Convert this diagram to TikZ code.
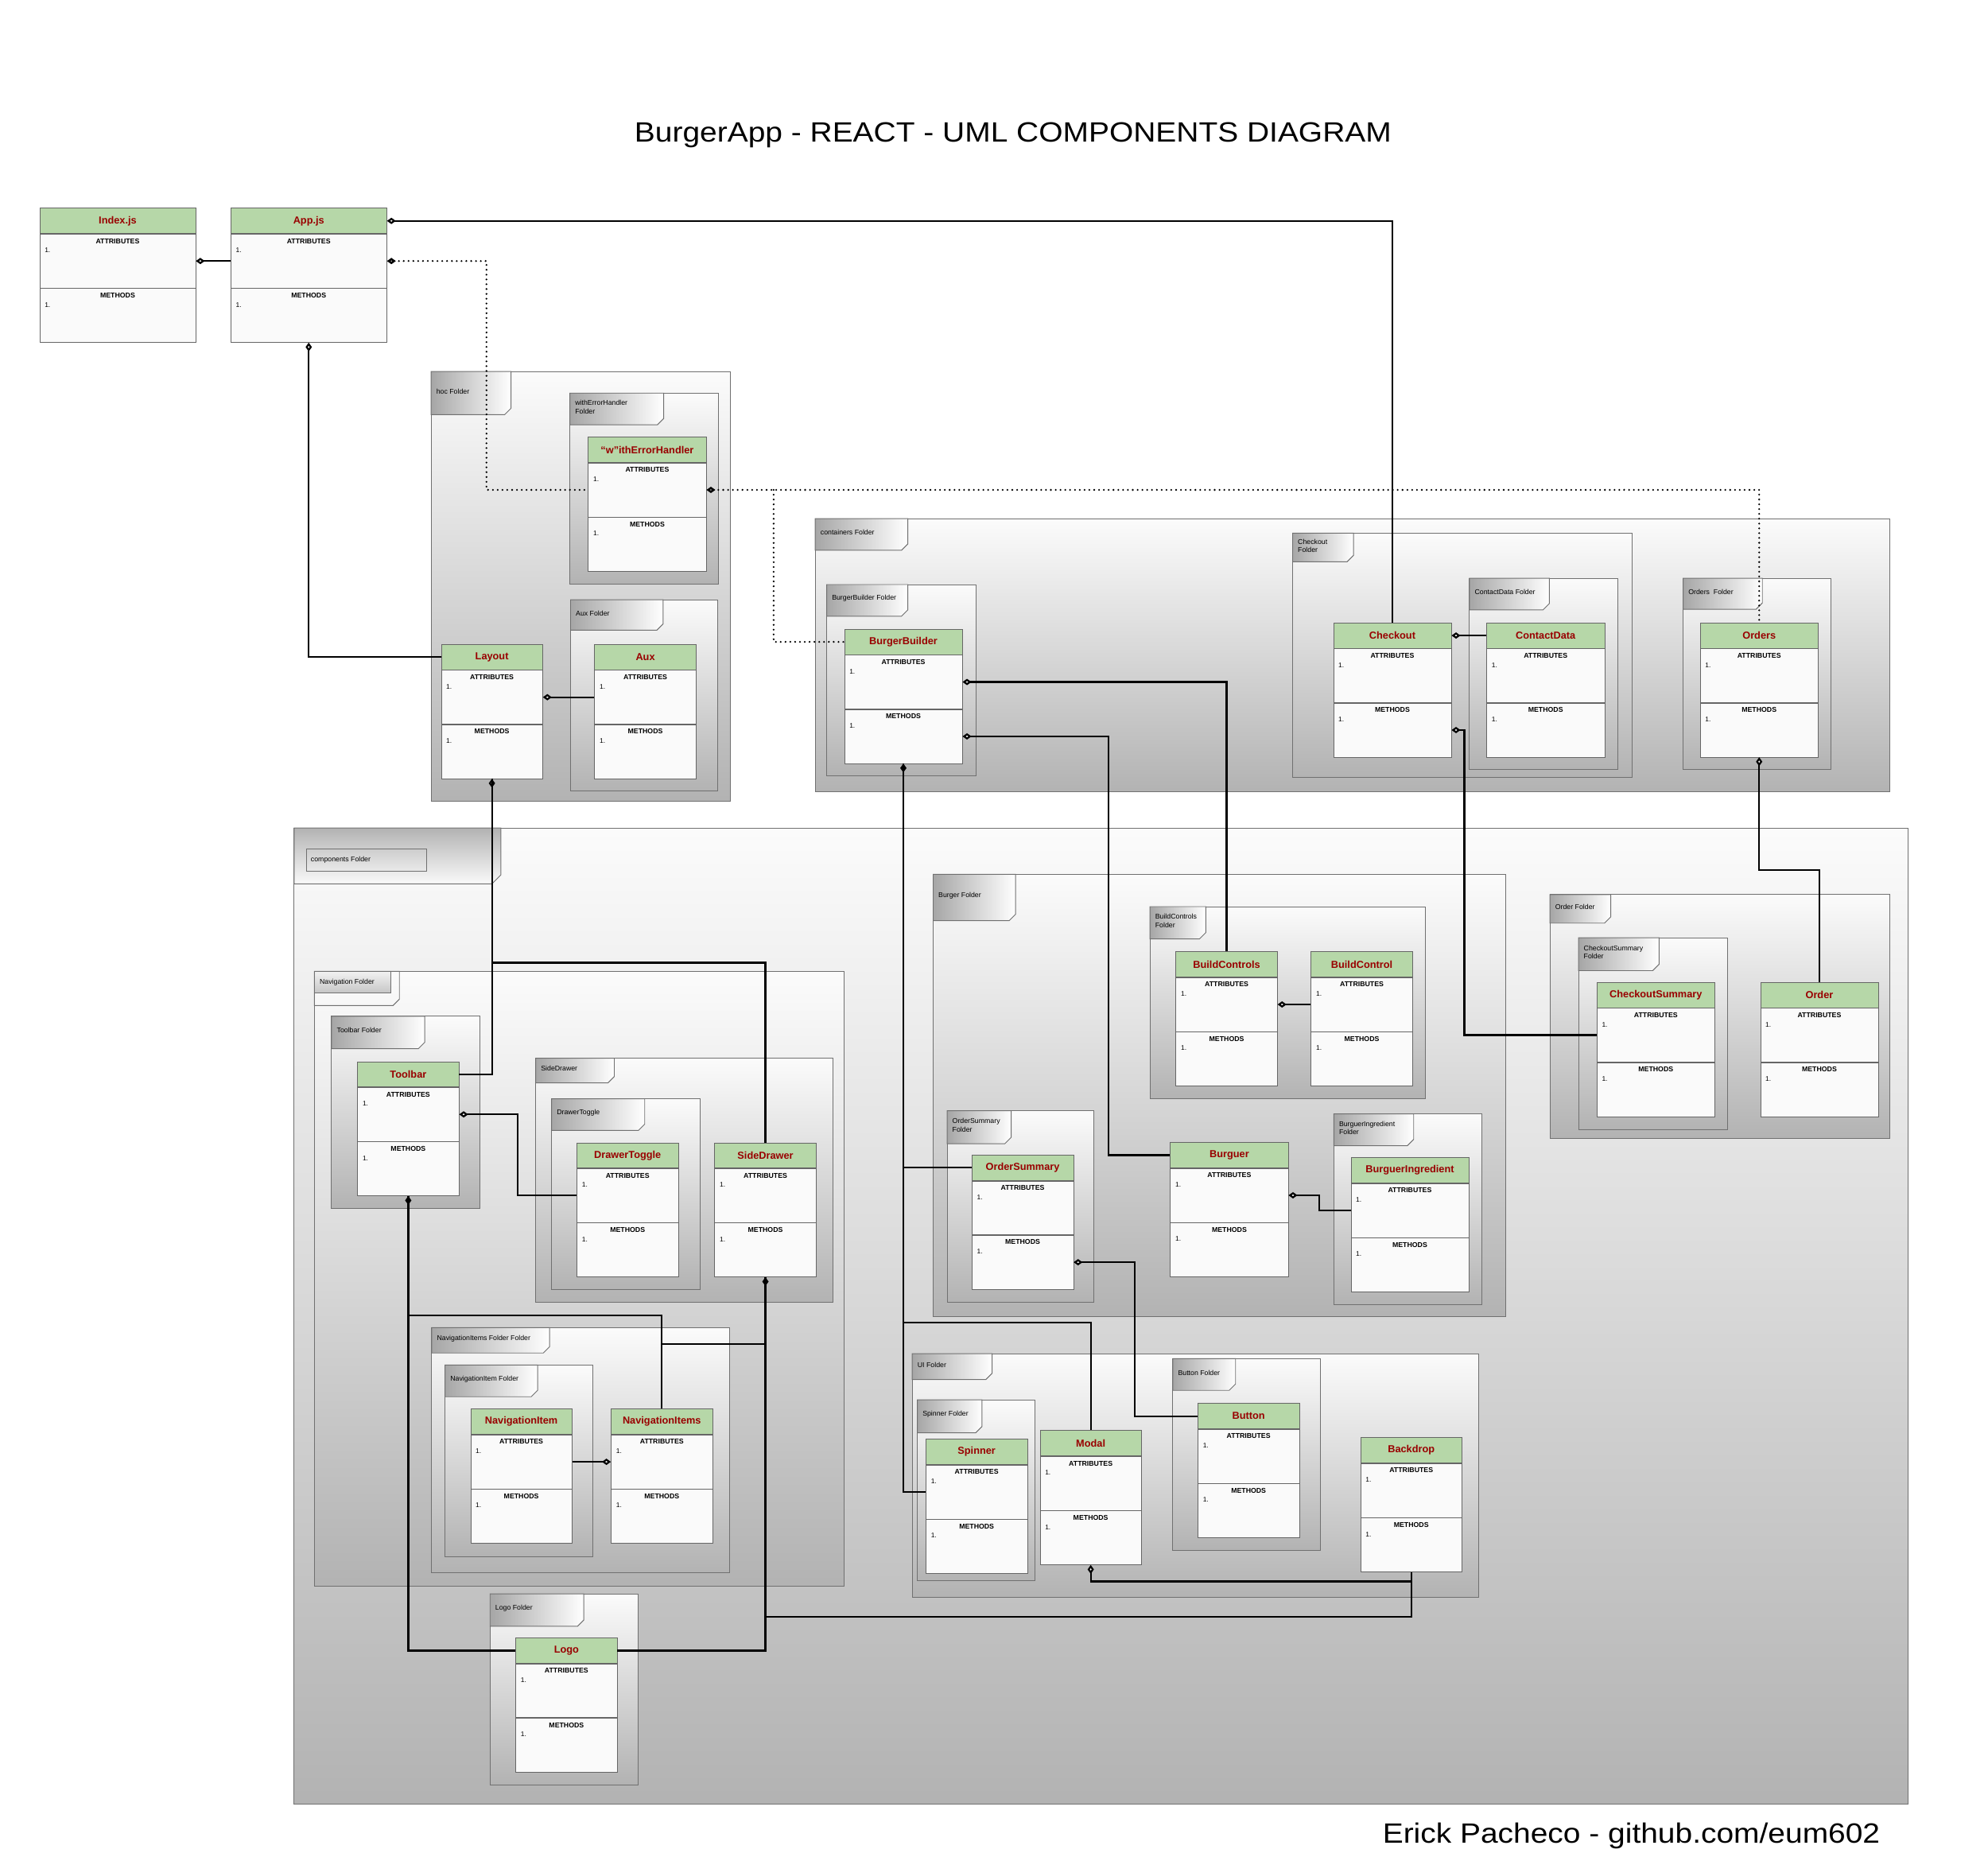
\documentclass[tikz,border=0pt]{standalone}
\usepackage{fontspec}
\setmainfont{Liberation Sans}
\newfontfamily\headfont[FakeStretch=1.11]{Liberation Sans}
\usetikzlibrary{positioning,arrows.meta}
\definecolor{hdgreen}{HTML}{B6D7A8}
\definecolor{namered}{HTML}{990000}
\definecolor{boxline}{HTML}{666666}
\definecolor{boxfill}{HTML}{FAFAFA}
\definecolor{frame}{HTML}{707070}

\begin{document}
\begin{tikzpicture}[x=1pt,y=-1pt,inner sep=0pt,
 cls/.style={draw=boxline,fill=hdgreen,minimum width=#1,minimum height=20,anchor=north,text=namered,font=\fontsize{8}{9}\selectfont\bfseries},
 sect/.style={draw=boxline,fill=boxfill,minimum width=#1,minimum height=42.5,label={[anchor=north west,xshift=4pt,yshift=-11pt,font=\fontsize{5.3}{6}\selectfont]north west:1.}},
 attr/.style={sect=#1,label={[anchor=north,yshift=-3.5pt,font=\fontsize{5.5}{6}\selectfont\bfseries]north:ATTRIBUTES}},
 meth/.style={sect=#1,label={[anchor=north,yshift=-3.5pt,font=\fontsize{5.5}{6}\selectfont\bfseries]north:METHODS}},
 fold/.style={draw=frame,line width=0.6pt,top color=gray!3,bottom color=gray!60},
 tab/.style={draw=frame,line width=0.6pt,left color=gray!70,right color=white},
 ctab/.style={draw=frame,line width=0.6pt,top color=gray!60,bottom color=gray!4},
 flab/.style={anchor=west,align=left,font=\fontsize{5.5}{6.5}\selectfont},
 link/.style={line width=1.4pt},
 agg/.style={link,{Diamond[fill=white,length=7pt,width=5pt]}-},
 dots/.style={line width=1.6pt,dash pattern=on 0pt off 3.8pt,line cap=round},
 ttl/.style={anchor=base,font=\headfont\fontsize{22}{26}\selectfont}]
\fill[white] (0,0) rectangle (1568,1464);
\node[ttl] (title) at (799,111.8) {BurgerApp - REACT - UML COMPONENTS DIAGRAM};
\node[ttl] (credit) at (1286.7,1453.4) {Erick Pacheco - github.com/eum602};

\draw[fold] (340,293) rectangle (576,632);
\draw[tab] (340,293) -| (403,322) -- (398,327) -| (340,293) -- cycle;
\node[flab] (hocf) at (344,308.5) {hoc Folder};
\draw[fold] (449.5,310) rectangle (566.5,460.5);
\draw[tab] (449.5,310) -| (523.5,330) -- (518.5,335) -| (449.5,310) -- cycle;
\node[flab] (wehf) at (453.5,321) {withErrorHandler\\Folder};
\draw[fold] (450,473) rectangle (566,624);
\draw[tab] (450,473) -| (523,492) -- (518,497) -| (450,473) -- cycle;
\node[flab] (auxf) at (454,483.5) {Aux Folder};

\draw[fold] (643,409) rectangle (1490.5,624.5);
\draw[tab] (643,409) -| (716,429) -- (711,434) -| (643,409) -- cycle;
\node[flab] (contf) at (647,420) {containers Folder};
\draw[fold] (652,461) rectangle (770,611.5);
\draw[tab] (652,461) -| (716,481) -- (711,486) -| (652,461) -- cycle;
\node[flab] (bbf) at (656,472) {BurgerBuilder Folder};
\draw[fold] (1019.5,420.5) rectangle (1287.5,613);
\draw[tab] (1019.5,420.5) -| (1067.5,438) -- (1062.5,443) -| (1019.5,420.5) -- cycle;
\node[flab] (checkoutf) at (1023.5,430.5) {Checkout\\Folder};
\draw[fold] (1159,456) rectangle (1276,606.5);
\draw[tab] (1159,456) -| (1222,476) -- (1217,481) -| (1159,456) -- cycle;
\node[flab] (contactf) at (1163,467) {ContactData Folder};
\draw[fold] (1327.5,456) rectangle (1444,606.5);
\draw[tab] (1327.5,456) -| (1390,475.5) -- (1385,480.5) -| (1327.5,456) -- cycle;
\node[flab] (ordersf) at (1331.5,466.7) {Orders\ \ Folder};

\draw[fold] (232,653) rectangle (1505,1423);
\draw[ctab] (232,653) -| (395,690) -- (388,697) -| (232,653) -- cycle;
\draw[draw=frame,line width=0.6pt] (241.5,669.5) rectangle (336.5,687);
\node[flab] (compf) at (245,678) {components Folder};
\draw[fold] (248,766) rectangle (666,1251);
\draw[draw=frame,line width=0.6pt] (248,766) -| (315,788) -- (310,793) -| (248,766) -- cycle;
\draw[draw=frame,line width=0.6pt,top color=gray!10,bottom color=gray!45] (248,766) rectangle (308,783);
\node[flab] (navf) at (252,774.5) {Navigation Folder};
\draw[fold] (261.5,801.5) rectangle (378.5,953);
\draw[tab] (261.5,801.5) -| (335,822) -- (330,827) -| (261.5,801.5) -- cycle;
\node[flab] (toolbarf) at (265.5,812.7) {Toolbar Folder};
\draw[fold] (422.5,834.5) rectangle (657,1027);
\draw[tab] (422.5,834.5) -| (484.5,849) -- (479.5,854) -| (422.5,834.5) -- cycle;
\node[flab] (sidedrawerf) at (426.5,842.7) {SideDrawer};
\draw[fold] (435,866.5) rectangle (552,1017);
\draw[tab] (435,866.5) -| (508.5,886.5) -- (503.5,891.5) -| (435,866.5) -- cycle;
\node[flab] (drawertogglef) at (439,877.5) {DrawerToggle};
\draw[fold] (340.5,1047) rectangle (575.5,1240.5);
\draw[tab] (340.5,1047) -| (433.5,1062) -- (428.5,1067) -| (340.5,1047) -- cycle;
\node[flab] (navitemsf) at (344.5,1055.5) {NavigationItems Folder Folder};
\draw[fold] (351,1076.5) rectangle (467.5,1227.5);
\draw[tab] (351,1076.5) -| (424,1096.5) -- (419,1101.5) -| (351,1076.5) -- cycle;
\node[flab] (navitemf) at (355,1087.5) {NavigationItem Folder};
\draw[fold] (386.5,1257) rectangle (503.5,1407.5);
\draw[tab] (386.5,1257) -| (460.5,1277.5) -- (455.5,1282.5) -| (386.5,1257) -- cycle;
\node[flab] (logof) at (390.5,1268.2) {Logo Folder};
\draw[fold] (736,689.5) rectangle (1187.5,1038.5);
\draw[tab] (736,689.5) -| (801,721) -- (796,726) -| (736,689.5) -- cycle;
\node[flab] (burgerf) at (740,706.2) {Burger Folder};
\draw[fold] (907,715) rectangle (1124.5,866.5);
\draw[tab] (907,715) -| (951,735.5) -- (946,740.5) -| (907,715) -- cycle;
\node[flab] (buildcontrolsf) at (911,726.2) {BuildControls\\Folder};
\draw[fold] (747,876) rectangle (863,1027);
\draw[tab] (747,876) -| (797.5,897) -- (792.5,902) -| (747,876) -- cycle;
\node[flab] (ordersummaryf) at (751,887.5) {OrderSummary\\Folder};
\draw[fold] (1052,878.5) rectangle (1168.5,1029);
\draw[tab] (1052,878.5) -| (1115,898.5) -- (1110,903.5) -| (1052,878.5) -- cycle;
\node[flab] (burguerf) at (1056,889.5) {BurguerIngredient\\Folder};
\draw[fold] (1222.5,705.5) rectangle (1490.5,898);
\draw[tab] (1222.5,705.5) -| (1270.5,723) -- (1265.5,728) -| (1222.5,705.5) -- cycle;
\node[flab] (orderf) at (1226.5,715.2) {Order Folder};
\draw[fold] (1245,739.5) rectangle (1362.5,891);
\draw[tab] (1245,739.5) -| (1308.5,760.5) -- (1303.5,765.5) -| (1245,739.5) -- cycle;
\node[flab] (checksumf) at (1249,751) {CheckoutSummary\\Folder};
\draw[fold] (719.5,1067.5) rectangle (1166,1260);
\draw[tab] (719.5,1067.5) -| (782.5,1083) -- (777.5,1088) -| (719.5,1067.5) -- cycle;
\node[flab] (uif) at (723.5,1076.2) {UI Folder};
\draw[fold] (723.5,1104) rectangle (816.5,1246.5);
\draw[tab] (723.5,1104) -| (774.5,1125) -- (769.5,1130) -| (723.5,1104) -- cycle;
\node[flab] (spinnerf) at (727.5,1115.5) {Spinner Folder};
\draw[fold] (925,1071.5) rectangle (1041.5,1222.5);
\draw[tab] (925,1071.5) -| (974.5,1091.5) -- (969.5,1096.5) -| (925,1071.5) -- cycle;
\node[flab] (buttonf) at (929,1082.5) {Button Folder};

\node[cls=123] (index) at (92.8,164) {Index.js};
\node[attr=123,below=0pt of index] (index-a) {};
\node[meth=123,below=0pt of index-a] (index-m) {};
\node[cls=123] (app) at (243.5,164) {App.js};
\node[attr=123,below=0pt of app] (app-a) {};
\node[meth=123,below=0pt of app-a] (app-m) {};
\node[cls=93] (weh) at (510.5,344.5) {“w”ithErrorHandler};
\node[attr=93,below=0pt of weh] (weh-a) {};
\node[meth=93,below=0pt of weh-a] (weh-m) {};
\node[cls=80] (layout) at (388,508) {Layout};
\node[attr=80,below=0pt of layout] (layout-a) {};
\node[meth=80,below=0pt of layout-a] (layout-m) {};
\node[cls=80] (aux) at (509,508) {Aux};
\node[attr=80,below=0pt of aux] (aux-a) {};
\node[meth=80,below=0pt of aux-a] (aux-m) {};
\node[cls=93] (bb) at (712.5,496) {BurgerBuilder};
\node[attr=93,below=0pt of bb] (bb-a) {};
\node[meth=93,below=0pt of bb-a] (bb-m) {};
\node[cls=93] (checkout) at (1098.2,491) {Checkout};
\node[attr=93,below=0pt of checkout] (checkout-a) {};
\node[meth=93,below=0pt of checkout-a] (checkout-m) {};
\node[cls=93] (contact) at (1219.1,491) {ContactData};
\node[attr=93,below=0pt of contact] (contact-a) {};
\node[meth=93,below=0pt of contact-a] (contact-m) {};
\node[cls=93] (orders) at (1387.5,491) {Orders};
\node[attr=93,below=0pt of orders] (orders-a) {};
\node[meth=93,below=0pt of orders-a] (orders-m) {};
\node[cls=80] (toolbar) at (322,837) {Toolbar};
\node[attr=80,below=0pt of toolbar] (toolbar-a) {};
\node[meth=80,below=0pt of toolbar-a] (toolbar-m) {};
\node[cls=80] (drawertoggle) at (495,901) {DrawerToggle};
\node[attr=80,below=0pt of drawertoggle] (drawertoggle-a) {};
\node[meth=80,below=0pt of drawertoggle-a] (drawertoggle-m) {};
\node[cls=80] (sidedrawer) at (603.7,901) {SideDrawer};
\node[attr=80,below=0pt of sidedrawer] (sidedrawer-a) {};
\node[meth=80,below=0pt of sidedrawer-a] (sidedrawer-m) {};
\node[cls=80] (navitem) at (411.2,1111) {NavigationItem};
\node[attr=80,below=0pt of navitem] (navitem-a) {};
\node[meth=80,below=0pt of navitem-a] (navitem-m) {};
\node[cls=80] (navitems) at (522,1111) {NavigationItems};
\node[attr=80,below=0pt of navitems] (navitems-a) {};
\node[meth=80,below=0pt of navitems-a] (navitems-m) {};
\node[cls=80] (logo) at (446.8,1291.5) {Logo};
\node[attr=80,below=0pt of logo] (logo-a) {};
\node[meth=80,below=0pt of logo-a] (logo-m) {};
\node[cls=80] (buildcontrols) at (967.5,750.3) {BuildControls};
\node[attr=80,below=0pt of buildcontrols] (buildcontrols-a) {};
\node[meth=80,below=0pt of buildcontrols-a] (buildcontrols-m) {};
\node[cls=80] (buildcontrol) at (1074.1,750.3) {BuildControl};
\node[attr=80,below=0pt of buildcontrol] (buildcontrol-a) {};
\node[meth=80,below=0pt of buildcontrol-a] (buildcontrol-m) {};
\node[cls=80] (ordersummary) at (806.6,910.7) {OrderSummary};
\node[attr=80,below=0pt of ordersummary] (ordersummary-a) {};
\node[meth=80,below=0pt of ordersummary-a] (ordersummary-m) {};
\node[cls=93] (burguer) at (969.6,900.8) {Burguer};
\node[attr=93,below=0pt of burguer] (burguer-a) {};
\node[meth=93,below=0pt of burguer-a] (burguer-m) {};
\node[cls=93] (burguering) at (1112,912.8) {BurguerIngredient};
\node[attr=93,below=0pt of burguering] (burguering-a) {};
\node[meth=93,below=0pt of burguering-a] (burguering-m) {};
\node[cls=93] (checksum) at (1306,774.5) {CheckoutSummary};
\node[attr=93,below=0pt of checksum] (checksum-a) {};
\node[meth=93,below=0pt of checksum-a] (checksum-m) {};
\node[cls=93] (order) at (1435,774.5) {Order};
\node[attr=93,below=0pt of order] (order-a) {};
\node[meth=93,below=0pt of order-a] (order-m) {};
\node[cls=80] (spinner) at (770.3,1134.8) {Spinner};
\node[attr=80,below=0pt of spinner] (spinner-a) {};
\node[meth=80,below=0pt of spinner-a] (spinner-m) {};
\node[cls=80] (modal) at (860.3,1128) {Modal};
\node[attr=80,below=0pt of modal] (modal-a) {};
\node[meth=80,below=0pt of modal-a] (modal-m) {};
\node[cls=80] (button) at (984.8,1106.6) {Button};
\node[attr=80,below=0pt of button] (button-a) {};
\node[meth=80,below=0pt of button-a] (button-m) {};
\node[cls=80] (backdrop) at (1113.1,1133.6) {Backdrop};
\node[attr=80,below=0pt of backdrop] (backdrop-a) {};
\node[meth=80,below=0pt of backdrop-a] (backdrop-m) {};

\draw[agg] (index-a.east) -- (app-a.west);
\draw[agg] (app.east) -| (checkout.north);
\draw[agg,dots] (app-a.east) -- ++(78.5,0) |- (weh-a.west);
\draw[agg] (app-m.south) |- (layout.west);
\draw[agg,dots] (weh-a.east) -| (orders.north);
\draw[dots] ([xshift=53pt]weh-a.east) |- (bb.west);
\draw[agg] (layout-a.east) -- (aux-a.west);
\draw[agg] (layout-m.south) |- (toolbar.east);
\draw[link] (layout-m.south) -- ++(0,145) -| (sidedrawer.north);
\draw[agg] (bb-a.east) -| (buildcontrols.north);
\draw[agg] (bb-m.east) -- ++(115.3,0) |- (burguer.west);
\draw[agg] (bb-m.south) |- (spinner-a.west);
\draw[link] (bb-m.south) |- (ordersummary.west);
\draw[link] (bb-m.south) -- ++(0,441) -| (modal.north);
\draw[agg] (checkout.east) -- (contact.west);
\draw[agg] (checkout-m.east) -- ++(10,0) |- (checksum-a.west);
\draw[agg] (orders-m.south) -- ++(0,89) -| (order.north);
\draw[agg] (buildcontrols-a.east) -- (buildcontrol-a.west);
\draw[agg] (burguer-a.east) -- ++(24,0) |- (burguering-a.west);
\draw[agg] (ordersummary-m.east) -- ++(48.4,0) |- (button.west);
\draw[agg] (modal-m.south) -- ++(0,13) -| (backdrop-m.south);
\draw[agg] (sidedrawer-m.south) -- ++(0,268) -| (backdrop-m.south);
\draw[link] (sidedrawer-m.south) |- (logo.east);
\draw[link] (sidedrawer-m.south) -- ++(0,52.6) -| (navitems.north);
\draw[agg] (toolbar-a.east) -- ++(46,0) |- (drawertoggle-a.west);
\draw[agg] (toolbar-m.south) -- ++(0,94.3) -| (navitems.north);
\draw[link] (toolbar-m.south) |- (logo.west);
\draw[agg] (navitems-a.west) -- (navitem-a.east);
\end{tikzpicture}
\end{document}
